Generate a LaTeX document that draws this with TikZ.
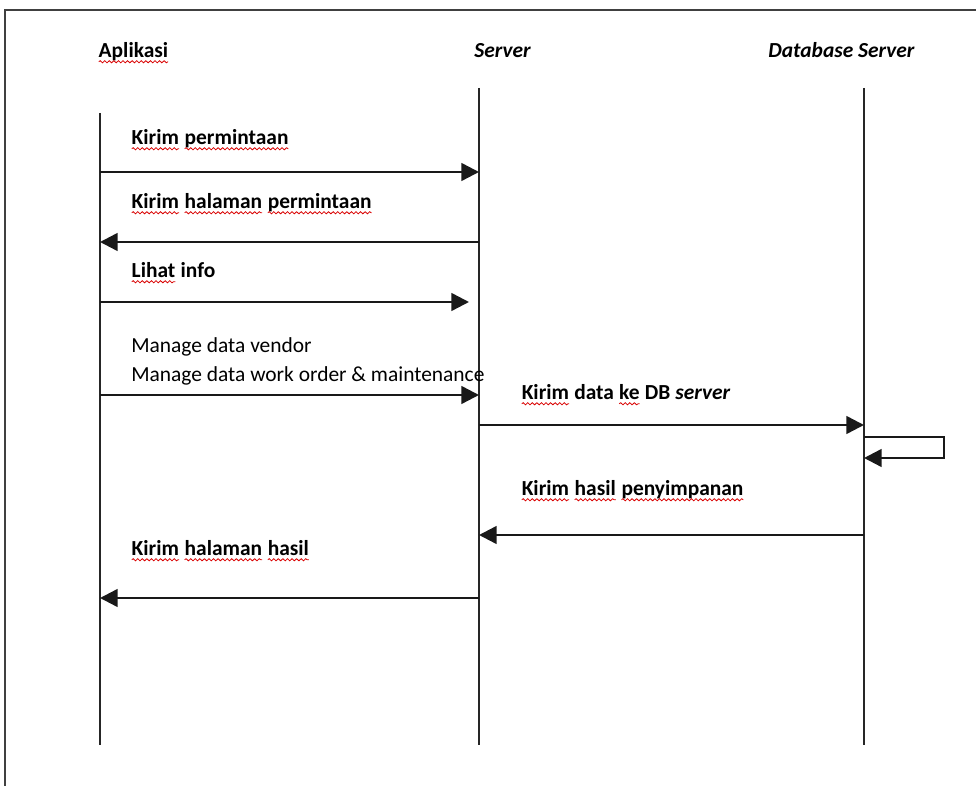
\documentclass[tikz,border=0pt]{standalone}
\usepackage{fontspec}
\setmainfont{Carlito}
\usetikzlibrary{arrows.meta,decorations.pathmorphing}
\newcommand\squig[1]{\tikz[baseline=(sqw.base)]{\node[inner sep=0pt,outer sep=0pt,anchor=base west] (sqw) at (0,0) {#1};
  \draw[red!85!black, line width=0.45pt, decorate, decoration={snake,amplitude=0.6pt,segment length=2.6pt}] ([yshift=-2.6pt]sqw.base west) -- ([yshift=-2.6pt]sqw.base east);}}
\tikzset{
  life/.style={line width=1.1pt, black!85},
  msg/.style={line width=1.4pt, black!90, -{Triangle[length=10pt,width=10pt]}},
  lbl/.style={anchor=mid west, inner sep=0pt, font=\bfseries\fontsize{12.2}{14}\selectfont},
  lblr/.style={anchor=mid west, inner sep=0pt, font=\fontsize{12.2}{14}\selectfont},
  head/.style={anchor=mid west, inner sep=0pt, font=\bfseries\fontsize{12.2}{14}\selectfont}
}
\begin{document}
\begin{tikzpicture}[x=0.02cm,y=-0.02cm]
\useasboundingbox (0,0) rectangle (976,786);
% frame
\draw[line width=0.8pt, black!75] (5,786) -- (5,10) -- (976,10);

% headers
\node[head] (hA) at (98,53) {\squig{Aplikasi}};
\node[head] (hS) at (474,53) {\itshape Server};
\node[head] (hD) at (768,53) {\itshape Database Server};

% lifelines
\coordinate (At) at (100,113); \coordinate (Ab) at (100,745);
\coordinate (St) at (479,88);  \coordinate (Sb) at (479,745);
\coordinate (Dt) at (864,88);  \coordinate (Db) at (864,745);
\draw[life] (At) -- (Ab);
\draw[life] (St) -- (Sb);
\draw[life] (Dt) -- (Db);

% message end points
\coordinate (a1) at (100,172); \coordinate (s1) at (479,172);
\coordinate (a2) at (100,242); \coordinate (s2) at (479,242);
\coordinate (a3) at (100,302); \coordinate (s3) at (469,302);
\coordinate (a4) at (100,395); \coordinate (s4) at (479,395);
\coordinate (s5) at (479,425); \coordinate (d5) at (864,425);
\coordinate (d6a) at (864,437); \coordinate (l6a) at (944,437);
\coordinate (l6b) at (944,458); \coordinate (d6b) at (864,458);
\coordinate (d7) at (864,535); \coordinate (s7) at (479,535);
\coordinate (s8) at (479,598); \coordinate (a8) at (100,598);

% labels
\node[lbl] (m1) at (131,140) {\squig{Kirim} \squig{permintaan}};
\node[lbl] (m2) at (131,204) {\squig{Kirim} \squig{halaman} \squig{permintaan}};
\node[lbl] (m3) at (131,273) {\squig{Lihat} info};
\node[lblr] (m4a) at (131,348) {Manage data vendor};
\node[lblr] (m4b) at (131,377) {Manage data work order \& maintenance};
\node[lbl] (m5) at (521,395) {\squig{Kirim} data \squig{ke} DB \textit{server}};
\node[lbl] (m7) at (521,491) {\squig{Kirim} \squig{hasil} \squig{penyimpanan}};
\node[lbl] (m8) at (131,551) {\squig{Kirim} \squig{halaman} \squig{hasil}};

% messages
\draw[msg] (a1) -- (s1);
\draw[msg] (s2) -- (a2);
\draw[msg] (a3) -- (s3);
\draw[msg] (a4) -- (s4);
\draw[msg] (s5) -- (d5);
\draw[msg] (d6a) -- (l6a) -- (l6b) -- (d6b);
\draw[msg] (d7) -- (s7);
\draw[msg] (s8) -- (a8);
\end{tikzpicture}
\end{document}
